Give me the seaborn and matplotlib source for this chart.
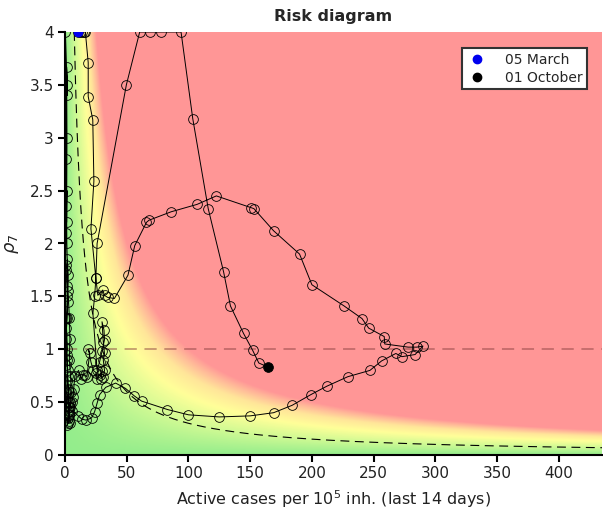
import numpy as np
import pandas as pd
import matplotlib
matplotlib.use("Agg")
import matplotlib.pyplot as plt
import seaborn as sns
from matplotlib.colors import LinearSegmentedColormap

# ---------------- data ----------------
# trajectory: active cases per 1e5 (last 14 days) and rho_7 (clipped at 4)
cases = [
    10.5, 12.0, 13.5, 15.0, 16.5, 18.8, 18.8, 22.5, 23.4, 21.0, 25.0, 26.6, 30.6, 32.0, 34.6, 40.0,
    51, 56.5, 66, 68, 86, 107, 122.6, 150.5, 153, 169, 190, 200, 226, 240.6, 246, 258.6, 259,
    278, 285, 290, 283.6, 273, 268, 256.5, 247, 229, 212, 199, 184, 169, 150, 125, 100, 83, 62,
    56, 49, 41, 33, 28, 26, 24, 21.5, 17, 13.5, 10.7, 6, 4,
    3.5, 3.0, 2.5, 3.0, 2.0, 2.5, 1.8, 2.2, 1.5, 2.0, 1.2, 1.8, 2.2, 1.5, 1.0, 2.0, 2.5, 1.8,
    1.2, 0.8, 1.5, 2.2, 3.0, 2.6, 3.2, 2.8, 2.0, 1.5, 1.0, 0.5, 0.3, 0.5, 0.8, 1.2, 1.6, 1.3,
    1.6, 1.3, 2.0, 2.0, 0.3, 1.0, 1.5, 2.5, 3.5, 4.0, 3.5, 4.5, 5.0, 4.2, 3.6, 4.3, 3.0, 3.8,
    5.5, 6.5, 7.0,
    8.0, 11.0, 13.0, 14.5, 16.0, 17.7, 20.0, 19.0, 21.0, 23.0, 25.0, 26.0, 28.0, 30.0, 29.0,
    31.0, 32.0, 31.0, 32.0, 31.0, 30.0, 31.6, 32.0, 30.0, 28.0, 26.0, 22.6, 24.0, 25.0, 26.0,
    49.7, 60.5, 68.5, 78, 94, 103.5, 116, 128.5, 134, 144.6, 152, 157, 164.7,
]
rho7 = [
    4.0, 4.0, 4.0, 4.0, 4.0, 3.71, 3.39, 3.17, 2.59, 2.14, 1.67, 1.51, 1.56, 1.51, 1.49, 1.48,
    1.70, 1.98, 2.20, 2.22, 2.30, 2.37, 2.45, 2.34, 2.33, 2.12, 1.90, 1.61, 1.41, 1.29, 1.20, 1.12, 1.05,
    1.02, 1.02, 1.03, 0.95, 0.93, 0.96, 0.89, 0.80, 0.74, 0.65, 0.57, 0.47, 0.40, 0.37, 0.36, 0.38, 0.43, 0.51,
    0.56, 0.63, 0.68, 0.64, 0.57, 0.49, 0.41, 0.35, 0.33, 0.34, 0.37, 0.42, 0.49,
    0.45, 0.38, 0.30, 0.45, 0.55, 0.62, 0.70, 0.80, 0.95, 1.00, 1.20, 1.30, 1.45, 1.60, 1.75, 1.85, 1.70, 1.50,
    1.30, 1.10, 0.90, 0.75, 0.60, 0.50, 0.42, 0.35, 0.28, 0.40, 0.60, 0.85, 1.30, 1.80, 2.10, 2.35, 2.50, 2.20,
    3.00, 3.67, 3.50, 3.40, 4.00, 2.80, 2.00, 1.55, 1.30, 1.10, 0.90, 0.75, 0.60, 0.50, 0.38, 0.30, 0.32, 0.45,
    0.50, 0.55, 0.62,
    0.75, 0.80, 0.72, 0.76, 0.76, 0.74, 0.96, 1.00, 0.88, 0.80, 0.78, 0.72, 0.76, 0.79, 0.72,
    0.74, 0.80, 0.90, 0.96, 1.07, 1.26, 1.18, 1.09, 0.98, 0.88, 0.80, 1.34, 1.50, 1.67, 2.00,
    3.50, 4.00, 4.00, 4.00, 4.00, 3.18, 2.33, 1.73, 1.41, 1.15, 0.99, 0.87, 0.83,
]
first_label = "05 March"
last_label = "01 October"

EPG_DASHED = 30     # iso-risk dashed curve
EPG_RED = 100       # full red level
x_max, y_max = 435, 4.0
x_ticks = [0, 50, 100, 150, 200, 250, 300, 350, 400]
y_ticks = [0, 0.5, 1, 1.5, 2, 2.5, 3, 3.5, 4]
y_tick_labels = ["0", "0.5", "1", "1.5", "2", "2.5", "3", "3.5", "4"]

df = pd.DataFrame({"cases": cases, "rho": rho7, "t": np.arange(len(cases))})

# ---------------- figure ----------------
sns.set_style("white")
plt.rcParams["font.family"] = ["DejaVu Sans"]

fig = plt.figure(figsize=(6.03, 5.11), dpi=100)
ax = fig.add_axes([65 / 603, 56 / 511, 537 / 603, 423 / 511])

# background risk field
gx = np.linspace(0, x_max, 600)
gy = np.linspace(0, y_max, 500)
GX, GY = np.meshgrid(gx, gy)
field = np.clip(GX * GY / EPG_RED, 0, 1)
cmap = LinearSegmentedColormap.from_list(
    "risk",
    [(0.0, (0.58, 0.93, 0.55)),
     (0.3, (0.82, 0.98, 0.58)),
     (0.55, (1.0, 1.0, 0.6)),
     (0.75, (1.0, 0.9, 0.6)),
     (0.9, (1.0, 0.72, 0.6)),
     (1.0, (1.0, 0.59, 0.59))])
ax.imshow(field, extent=[0, x_max, 0, y_max], origin="lower", cmap=cmap,
          vmin=0, vmax=1, aspect="auto", interpolation="bilinear", zorder=0)

# reference lines
cx = np.linspace(EPG_DASHED / y_max, x_max, 400)
ax.plot(cx, EPG_DASHED / cx, ls=(0, (8, 5)), color="black", lw=0.8, zorder=2)
ax.axhline(1.0, ls=(0, (8, 5)), color=(0.55, 0.25, 0.25), alpha=0.6, lw=1.1, zorder=2)

# trajectory
sns.lineplot(data=df, x="cases", y="rho", sort=False, estimator=None, ax=ax,
             color="black", lw=0.7, marker="o", markersize=7,
             markerfacecolor="none", markeredgecolor="black", markeredgewidth=0.6,
             zorder=3)

# first / last points
ax.plot(df["cases"].iloc[0], df["rho"].iloc[0], "o", color="#0000ee", ms=6,
        ls="none", label=first_label, zorder=5)
ax.plot(df["cases"].iloc[-1], df["rho"].iloc[-1], "o", color="black", ms=6,
        ls="none", label=last_label, zorder=5)

ax.set_xlim(0, x_max)
ax.set_ylim(0, y_max)
ax.set_xticks(x_ticks)
ax.set_yticks(y_ticks)
ax.set_yticklabels(y_tick_labels)
ax.tick_params(axis="both", which="major", bottom=True, left=True,
               direction="out", length=5, width=1.5, colors="black",
               labelsize=11, labelcolor="#222222", pad=3)
for s in ["top", "right"]:
    ax.spines[s].set_visible(False)
for s in ["left", "bottom"]:
    ax.spines[s].set_color("black")
    ax.spines[s].set_linewidth(1.5)

ax.set_xlabel("Active cases per 10$^5$ inh. (last 14 days)", fontsize=11.5,
              color="#222222", labelpad=5)
ax.set_ylabel(r"$\rho_7$", fontsize=13, color="#222222", labelpad=6)
ax.set_title("Risk diagram", fontsize=11.5, fontweight="bold", pad=8)

leg = ax.legend(loc="upper right", bbox_to_anchor=(0.985, 0.978), frameon=True,
                fancybox=False, fontsize=10, handletextpad=1.2, borderpad=0.35,
                labelspacing=0.25, handlelength=1.5)
leg.get_frame().set_edgecolor("#333333")
leg.get_frame().set_linewidth(1.5)
leg.get_frame().set_alpha(1)

fig.savefig("out.png", dpi=100)
